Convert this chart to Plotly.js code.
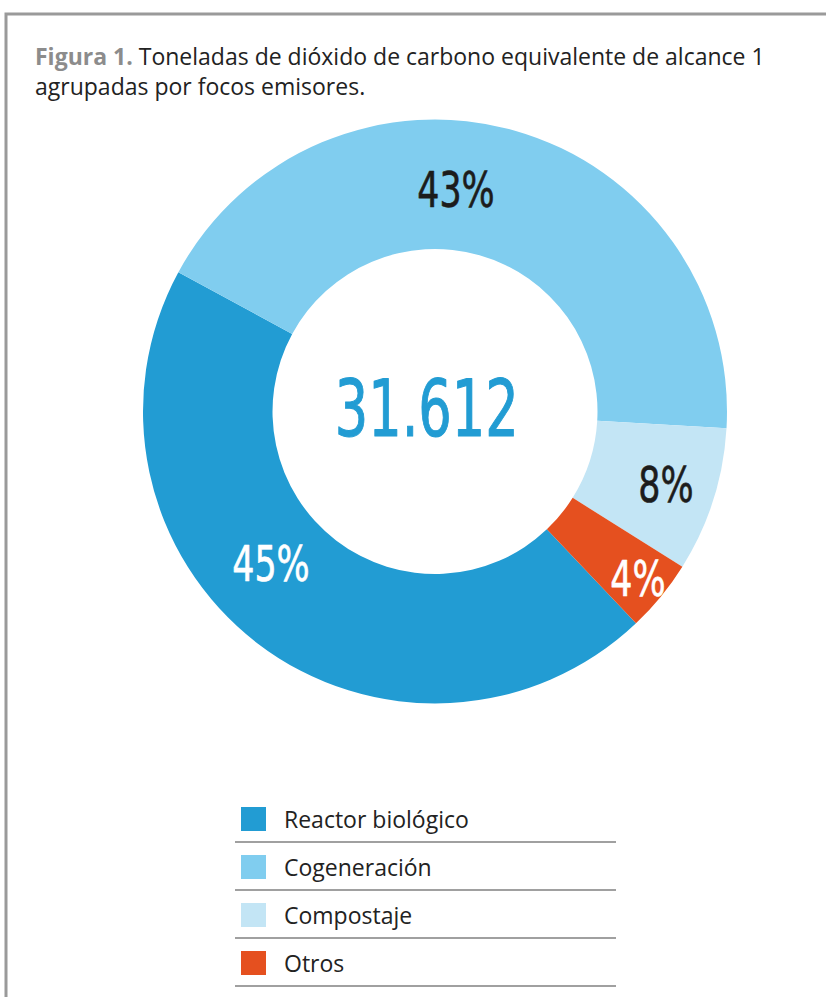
<!DOCTYPE html>
<html><head><meta charset="utf-8">
<script src="https://cdn.plot.ly/plotly-3.0.1.min.js"></script>
<style>html,body{margin:0;padding:0;background:#fff;overflow:hidden}#chart{width:826px;height:997px}</style>
</head><body><div id="chart"></div>
<script>
// ---- data ----
const categories = ['Reactor biológico', 'Cogeneración', 'Compostaje', 'Otros'];
const shares = [45, 43, 8, 4];
const shareLabels = ['45%', '43%', '8%', '4%'];
const totalLabel = '31.612';
const titleLead = 'Figura 1.';
const titleText = 'Toneladas de dióxido de carbono equivalente de alcance 1<br>agrupadas por focos emisores.';

// ---- style ----
const colors = ['#229cd3', '#80cdef', '#c3e5f5', '#e5501f'];
const labelColors = ['#ffffff', '#1c1c1c', '#1c1c1c', '#ffffff'];
const W = 826, H = 997;
const cx = 435, cy = 411.5, R = 292, holeFrac = 0.5565, rotation = 136.5;
const labelShift = [9.4, -10.5, 0, 0.4];          // degrees from slice middle
const labelRadius = [0.769, 0.759, 0.829, 0.903]; // fraction of outer radius
const digitFont = 'DejaVu Sans Condensed, DejaVu Sans, sans-serif';
const textFont = 'Open Sans, Noto Sans, sans-serif';
const narrow = {pct: 0.79, total: 0.75};
const thicken = {pct: 0.6, total: 1.0};

const fx = px => px / W;
const fy = py => 1 - py / H;

const trace = {
  type: 'pie',
  labels: categories,
  values: shares,
  sort: false,
  direction: 'clockwise',
  rotation: rotation,
  hole: holeFrac,
  textinfo: 'none',
  hoverinfo: 'none',
  showlegend: false,
  marker: {colors: colors, line: {width: 0}},
  domain: {x: [fx(cx - R), fx(cx + R)], y: [fy(cy + R), fy(cy - R)]}
};

const annotations = [];
const squeeze = {};
const total = shares.reduce((a, b) => a + b, 0);
let start = rotation;
shares.forEach((v, i) => {
  const span = v / total * 360;
  const mid = (start + span / 2 + labelShift[i]) * Math.PI / 180;
  const r = R * labelRadius[i];
  squeeze[annotations.length] = {s: narrow.pct, w: thicken.pct, c: labelColors[i]};
  annotations.push({
    xref: 'paper', yref: 'paper',
    x: fx(cx + r * Math.sin(mid)), y: fy(cy - r * Math.cos(mid)),
    xanchor: 'center', yanchor: 'middle', showarrow: false,
    text: shareLabels[i],
    font: {family: digitFont, size: 49, color: labelColors[i]}
  });
  start += span;
});
squeeze[annotations.length] = {s: narrow.total, w: thicken.total, c: colors[0]};
annotations.push({
  xref: 'paper', yref: 'paper', x: fx(cx - 8), y: fy(cy - 2),
  xanchor: 'center', yanchor: 'middle', showarrow: false,
  text: totalLabel,
  font: {family: digitFont, size: 78, color: colors[0]}
});

const shapes = [];
// frame
shapes.push({type: 'rect', xref: 'paper', yref: 'paper', x0: fx(6), x1: fx(W + 20), y0: fy(H + 20), y1: fy(14),
  line: {color: '#9a9a9a', width: 3}, fillcolor: 'rgba(0,0,0,0)'});
// legend
const legTop = 819, legStep = 48;
categories.forEach((c, i) => {
  const yc = legTop + i * legStep;
  shapes.push({type: 'rect', xref: 'paper', yref: 'paper', x0: fx(241), x1: fx(266), y0: fy(yc + 12), y1: fy(yc - 12),
    line: {width: 0}, fillcolor: colors[i]});
  shapes.push({type: 'line', xref: 'paper', yref: 'paper', x0: fx(235), x1: fx(616), y0: fy(yc + 23), y1: fy(yc + 23),
    line: {color: '#a0a0a0', width: 2}});
  annotations.push({xref: 'paper', yref: 'paper', x: fx(282), y: fy(yc), xanchor: 'left', yanchor: 'middle',
    showarrow: false, text: c, font: {family: textFont, size: 23, color: '#222222'}});
});

const layout = {
  width: W, height: H,
  margin: {l: 0, r: 0, t: 0, b: 0},
  paper_bgcolor: '#ffffff',
  font: {family: textFont},
  title: {
    text: '<b><span style="color:#8c8c8c">' + titleLead + '</span></b> ' + titleText,
    x: fx(35), xref: 'paper', xanchor: 'left',
    y: fy(65), yref: 'container', yanchor: 'top',
    font: {family: textFont, size: 23, color: '#222222'}
  },
  annotations: annotations,
  shapes: shapes
};

Plotly.newPlot('chart', [trace], layout, {displayModeBar: false, staticPlot: true}).then(gd => {
  gd.querySelectorAll('g.annotation').forEach(g => {
    const idx = +g.getAttribute('data-index');
    if (!(idx in squeeze)) return;
    const t = g.querySelector('text');
    if (!t) return;
    const o = squeeze[idx];
    t.style.stroke = o.c;
    t.style.strokeWidth = o.w + 'px';
    t.style.strokeLinejoin = 'round';
    const bb = t.getBBox();
    const c = bb.x + bb.width / 2;
    const prev = t.getAttribute('transform') || '';
    t.setAttribute('transform', 'translate(' + c + ',0) scale(' + o.s + ',1) translate(' + (-c) + ',0) ' + prev);
  });
});
</script>
</body></html>
